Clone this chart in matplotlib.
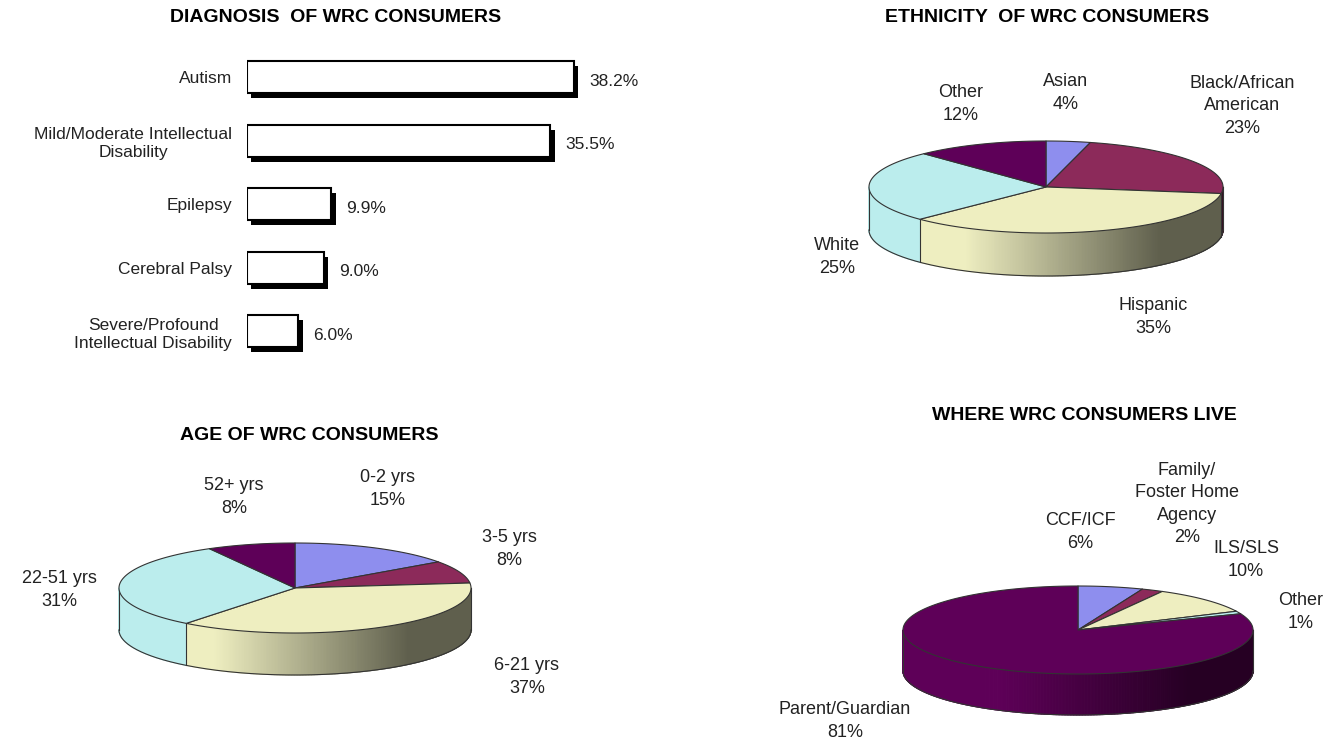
import numpy as np
import matplotlib
matplotlib.use("Agg")
import matplotlib.pyplot as plt
from matplotlib.collections import PolyCollection
from matplotlib.patches import Polygon
from matplotlib import patheffects as pe
from matplotlib.colors import to_rgb

plt.rcParams['font.family'] = ['Liberation Sans', 'DejaVu Sans']

# ---------------- data ----------------
diag_labels = ["Autism", "Mild/Moderate Intellectual\nDisability", "Epilepsy",
               "Cerebral Palsy", "Severe/Profound\nIntellectual Disability"]
diag_values = [38.2, 35.5, 9.9, 9.0, 6.0]

eth_labels = ["Asian", "Black/African\nAmerican", "Hispanic", "White", "Other"]
eth_values = [4, 23, 35, 25, 12]

age_labels = ["0-2 yrs", "3-5 yrs", "6-21 yrs", "22-51 yrs", "52+ yrs"]
age_values = [15, 8, 37, 31, 8]

live_labels = ["CCF/ICF", "Family/\nFoster Home\nAgency", "ILS/SLS", "Other", "Parent/Guardian"]
live_values = [6, 2, 10, 1, 81]

pie_colors = ["#8e8eee", "#8c2a5a", "#eeeec0", "#bbeded", "#5e0058"]

W, H = 1339, 742
fig = plt.figure(figsize=(W / 100, H / 100), dpi=100)
fig.patch.set_facecolor("white")

TXT = "#222222"

# ---------------- bar chart ----------------
px_per_unit = 8.56
bar_left, bar_top, row_h = 246.6, 45.45, 63.5
xmax = 50
axb = fig.add_axes([bar_left / W, 1 - (bar_top + 5 * row_h) / H,
                    xmax * px_per_unit / W, 5 * row_h / H])
ypos = np.arange(len(diag_values))
bars = axb.barh(ypos, diag_values, height=0.5, color="white", edgecolor="black",
                linewidth=1.5)
for b in bars:
    b.set_path_effects([pe.SimplePatchShadow(offset=(3.4, -3.6), shadow_rgbFace="black",
                                             alpha=1.0), pe.Normal()])
axb.set_xlim(0, xmax)
axb.set_ylim(len(diag_values) - 0.5, -0.5)
axb.set_yticks(ypos, labels=diag_labels, fontsize=12.5, color=TXT,
               multialignment="center", linespacing=1.25)
axb.tick_params(axis="y", length=0, pad=10.5)
axb.set_xticks([])
for s in axb.spines.values():
    s.set_visible(False)
for yv, v in zip(ypos, diag_values):
    axb.annotate(f"{v:.1f}%", (v, yv), xytext=(11, -3), textcoords="offset points",
                 ha="left", va="center", fontsize=12.5, color=TXT)

# ---------------- overlay axes for pies / titles ----------------
ax = fig.add_axes([0, 0, 1, 1])
ax.set_xlim(0, W)
ax.set_ylim(H, 0)
ax.axis("off")
ax.set_zorder(-1)


def shade(s):
    t = (1 - s) / 2
    return 0.4 + 0.6 * np.clip((t - 0.18) / 0.55, 0, 1)


def pt(cx, cy, rx, ry, th, dz=0.0):
    r = np.radians(th)
    return cx + rx * np.sin(r), cy - ry * np.cos(r) + dz


def pie3d(values, colors, cx, cy, rx, ry, depth):
    vals = np.asarray(values, float)
    bounds = np.concatenate([[0], np.cumsum(vals / vals.sum())]) * 360
    ec, lw = "#333333", 0.8
    # side walls (front half: 90..270 deg, clockwise from top)
    for i, c in enumerate(colors):
        lo, hi = max(bounds[i], 90), min(bounds[i + 1], 270)
        if hi <= lo:
            continue
        base = np.array(to_rgb(c))
        th = np.linspace(lo, hi, max(2, int((hi - lo) * 2) + 1))
        polys, cols = [], []
        for t0, t1 in zip(th[:-1], th[1:]):
            x0, y0 = pt(cx, cy, rx, ry, t0)
            x1, y1 = pt(cx, cy, rx, ry, t1)
            polys.append([(x0, y0), (x1, y1), (x1, y1 + depth), (x0, y0 + depth)])
            s = np.sin(np.radians((t0 + t1) / 2))
            cols.append(tuple(np.clip(base * shade(s), 0, 1)))
        ax.add_collection(PolyCollection(polys, facecolors=cols, edgecolors=cols,
                                         linewidths=0.8, zorder=2))
    # wall outlines
    th = np.linspace(90, 270, 361)
    xb, yb = pt(cx, cy, rx, ry, th, depth)
    ax.plot(xb, yb, color=ec, lw=lw, zorder=3)
    vert = [90, 270] + [b for b in bounds if 90 < b < 270]
    for b in vert:
        x0, y0 = pt(cx, cy, rx, ry, b)
        ax.plot([x0, x0], [y0, y0 + depth], color=ec, lw=lw, zorder=3)
    # top wedges
    for i, c in enumerate(colors):
        a0, a1 = bounds[i], bounds[i + 1]
        tt = np.linspace(a0, a1, max(2, int((a1 - a0) * 2) + 1))
        xs, ys = pt(cx, cy, rx, ry, tt)
        verts = [(cx, cy)] + list(zip(xs, ys))
        ax.add_patch(Polygon(verts, closed=True, facecolor=c, edgecolor=ec,
                             linewidth=lw, joinstyle="round", zorder=4))


pie3d(eth_values, pie_colors, 1046, 187, 177, 46, 43)
pie3d(age_values, pie_colors, 295, 588, 176, 45, 42)
pie3d(live_values, pie_colors, 1078, 630, 175, 44, 41)


def lab(x, y, name, v):
    ax.text(x, y, f"{name}\n{v}%", ha="center", va="center", fontsize=13,
            color=TXT, linespacing=1.4)


# ethnicity labels
eth_pos = [(1066, 93), (1242, 106), (1153, 317), (837, 257), (961, 104)]
for (x, y), n, v in zip(eth_pos, eth_labels, eth_values):
    lab(x, y, n, v)
# age labels
age_pos = [(388, 489), (509, 549), (527, 677), (59, 590), (234, 497)]
for (x, y), n, v in zip(age_pos, age_labels, age_values):
    lab(x, y, n, v)
# living labels
live_pos = [(1080, 532), (1187, 504), (1246, 560), (1301, 612), (845, 721)]
for (x, y), n, v in zip(live_pos, live_labels, live_values):
    lab(x, y, n, v)

# titles
titles = [(336, 18, "DIAGNOSIS  OF WRC CONSUMERS"),
          (1047, 18, "ETHNICITY  OF WRC CONSUMERS"),
          (309, 436, "AGE OF WRC CONSUMERS"),
          (1084, 416, "WHERE WRC CONSUMERS LIVE")]
for x, y, t in titles:
    ax.text(x, y, t, ha="center", va="center", fontsize=14, fontweight="bold",
            color="black")

fig.savefig("out.png", dpi=100)
